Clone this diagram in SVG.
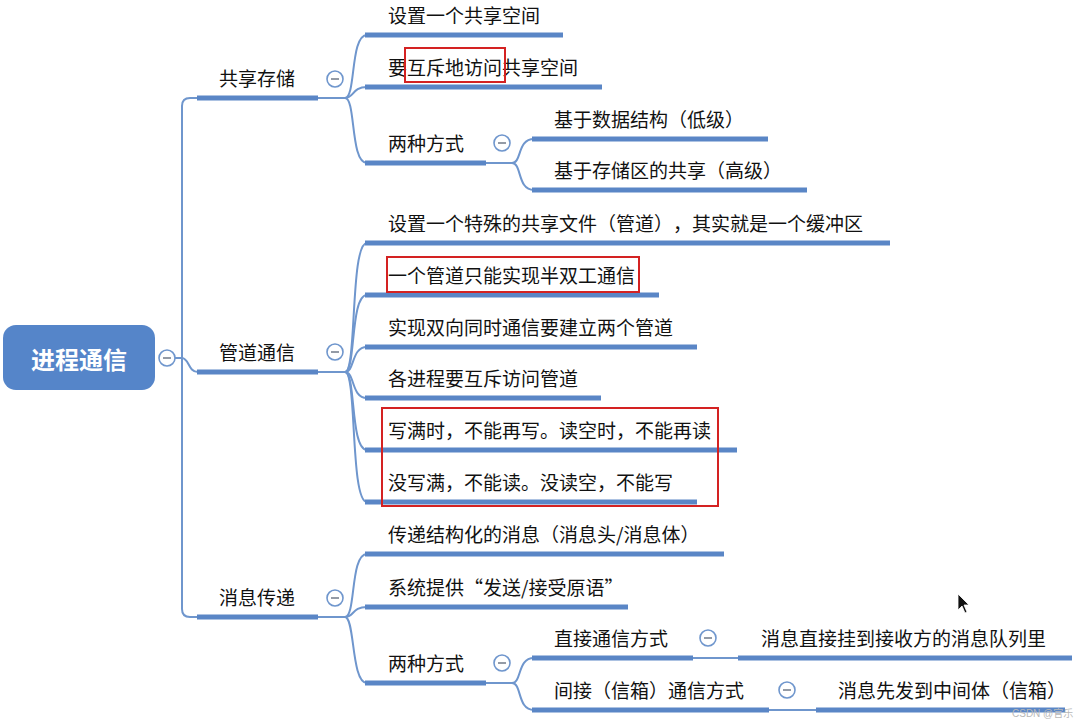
<svg xmlns="http://www.w3.org/2000/svg" width="1092" height="720" viewBox="0 0 1092 720">
<style>
.t{font-family:"Noto Sans CJK SC","Noto Sans",sans-serif;font-size:19px;fill:#111;text-spacing-trim:space-all}
.root{font-family:"Noto Sans CJK SC","Noto Sans",sans-serif;font-size:24px;font-weight:700;fill:#fff}
.ul{stroke:#5a86c6;stroke-width:5;fill:none}
.cv{stroke:#6f96cd;stroke-width:2;fill:none}
.box{stroke:#d42222;stroke-width:2;fill:none}
.col circle{fill:#fff;stroke:#6f96cd;stroke-width:1.6}
.col line{stroke:#7a8290;stroke-width:1.6}
.wm{font-family:"Liberation Sans","Noto Sans CJK SC",sans-serif;font-size:10px;fill:#b8b8b8}
</style>
<defs>
<g id="minus" class="col"><circle r="8"/><line x1="-4" y1="0" x2="4" y2="0"/></g>
</defs>
<rect width="1092" height="720" fill="#fff"/>

<g id="connectors">
<path class="cv" d="M175,358 L182,358"/>
<path class="cv" d="M198,98 L190,98 Q182,98 182,106 L182,609 Q182,617 190,617 L198,617"/>
<path class="cv" d="M182,358 C189,358 188,372 198,372"/>
<path class="cv" d="M318,98 L345,98"/>
<path class="cv" d="M345,98 C356,98 350,35 367,35"/>
<path class="cv" d="M345,98 C354,98 352,87 367,87"/>
<path class="cv" d="M345,98 C356,98 350,163 367,163"/>
<path class="cv" d="M486,163 L512,163"/>
<path class="cv" d="M512,163 C522,163 517,139 534,139"/>
<path class="cv" d="M512,163 C522,163 517,190 534,190"/>
<path class="cv" d="M318,372 L345,372"/>
<path class="cv" d="M345,372 C357,372 350,243 367,243"/>
<path class="cv" d="M345,372 C356,372 350,295 367,295"/>
<path class="cv" d="M345,372 C355,372 351,347 367,347"/>
<path class="cv" d="M345,372 C355,372 351,398 367,398"/>
<path class="cv" d="M345,372 C356,372 350,450 367,450"/>
<path class="cv" d="M345,372 C357,372 350,502 367,502"/>
<path class="cv" d="M318,617 L345,617"/>
<path class="cv" d="M345,617 C356,617 350,554 367,554"/>
<path class="cv" d="M345,617 C354,617 352,607 367,607"/>
<path class="cv" d="M345,617 C355,617 351,683 367,683"/>
<path class="cv" d="M486,683 L512,683"/>
<path class="cv" d="M512,683 C522,683 517,658 534,658"/>
<path class="cv" d="M512,683 C522,683 517,710 534,710"/>
<path class="cv" d="M693,658 L738,658"/>
<path class="cv" d="M769,710 L816,710"/>
</g>

<g id="root">
<rect x="3" y="325" width="152" height="65" rx="13" fill="#5585c9"/>
<text class="root" x="79" y="369" text-anchor="middle">进程通信</text>
<use href="#minus" x="167" y="358"/>
</g>

<g id="n-gxcc">
<path class="ul" d="M197,98 L318,98"/>
<text class="t" x="219" y="86">共享存储</text>
<use href="#minus" x="335" y="79"/>
</g>
<g id="n-gxcc-1">
<path class="ul" d="M365,35 L563,35"/>
<text class="t" x="388" y="23">设置一个共享空间</text>
</g>
<g id="n-gxcc-2">
<path class="ul" d="M365,87 L602,87"/>
<text class="t" x="388" y="75">要互斥地访问共享空间</text>
<rect class="box" x="405" y="48" width="100" height="34"/>
</g>
<g id="n-gxcc-3">
<path class="ul" d="M365,163 L486,163"/>
<text class="t" x="388" y="151">两种方式</text>
<use href="#minus" x="502" y="143"/>
</g>
<g id="n-gxcc-3a">
<path class="ul" d="M532,139 L768,139"/>
<text class="t" x="554" y="127">基于数据结构（低级）</text>
</g>
<g id="n-gxcc-3b">
<path class="ul" d="M532,190 L807,190"/>
<text class="t" x="554" y="178">基于存储区的共享（高级）</text>
</g>

<g id="n-gdtx">
<path class="ul" d="M197,372 L318,372"/>
<text class="t" x="219" y="360">管道通信</text>
<use href="#minus" x="335" y="352"/>
</g>
<g id="n-gdtx-1">
<path class="ul" d="M365,243 L890,243"/>
<text class="t" x="388" y="231">设置一个特殊的共享文件（管道），其实就是一个缓冲区</text>
</g>
<g id="n-gdtx-2">
<path class="ul" d="M365,295 L659,295"/>
<text class="t" x="388" y="283">一个管道只能实现半双工通信</text>
<rect class="box" x="387" y="257" width="252" height="35"/>
</g>
<g id="n-gdtx-3">
<path class="ul" d="M365,347 L697,347"/>
<text class="t" x="388" y="335">实现双向同时通信要建立两个管道</text>
</g>
<g id="n-gdtx-4">
<path class="ul" d="M365,398 L601,398"/>
<text class="t" x="388" y="386">各进程要互斥访问管道</text>
</g>
<g id="n-gdtx-5">
<path class="ul" d="M365,450 L737,450"/>
<text class="t" x="388" y="438">写满时，不能再写。读空时，不能再读</text>
</g>
<g id="n-gdtx-6">
<path class="ul" d="M365,502 L697,502"/>
<text class="t" x="388" y="490">没写满，不能读。没读空，不能写</text>
</g>
<rect id="box-rw" class="box" x="382" y="408" width="336" height="98"/>

<g id="n-xxcd">
<path class="ul" d="M197,617 L318,617"/>
<text class="t" x="219" y="605">消息传递</text>
<use href="#minus" x="335" y="598"/>
</g>
<g id="n-xxcd-1">
<path class="ul" d="M365,554 L724,554"/>
<text class="t" x="388" y="542">传递结构化的消息（消息头/消息体）</text>
</g>
<g id="n-xxcd-2">
<path class="ul" d="M365,607 L628,607"/>
<text class="t" x="388" y="595">系统提供“发送/接受原语”</text>
</g>
<g id="n-xxcd-3">
<path class="ul" d="M365,683 L486,683"/>
<text class="t" x="388" y="671">两种方式</text>
<use href="#minus" x="502" y="663"/>
</g>
<g id="n-xxcd-3a">
<path class="ul" d="M532,658 L693,658"/>
<text class="t" x="554" y="646">直接通信方式</text>
<use href="#minus" x="708" y="638"/>
</g>
<g id="n-xxcd-3a1">
<path class="ul" d="M738,658 L1072,658"/>
<text class="t" x="761" y="646">消息直接挂到接收方的消息队列里</text>
</g>
<g id="n-xxcd-3b">
<path class="ul" d="M532,710 L769,710"/>
<text class="t" x="554" y="698">间接（信箱）通信方式</text>
<use href="#minus" x="787" y="690"/>
</g>
<g id="n-xxcd-3b1">
<path class="ul" d="M816,710 L1065,710"/>
<text class="t" x="838" y="698">消息先发到中间体（信箱）</text>
</g>

<text class="wm" x="1012" y="717">CSDN @官乐</text>
<path d="M958,594 L958,610 L962,606 L965,613 L967,612 L964,605 L969,605 Z" fill="#111" stroke="#fff" stroke-width="0.8"/>
</svg>
